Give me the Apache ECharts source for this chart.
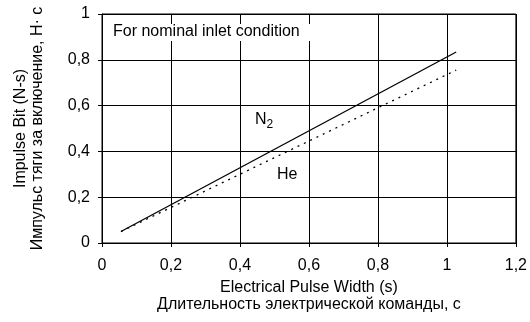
<!DOCTYPE html>
<html>
<head>
<meta charset="utf-8">
<script src="https://cdn.jsdelivr.net/npm/echarts@6/dist/echarts.min.js"></script>
<style>html,body{margin:0;padding:0;background:#fff;}#c{width:530px;height:322px;}</style>
</head>
<body>
<div id="c"></div>
<script>
var xTicks = [0, 0.2, 0.4, 0.6, 0.8, 1, 1.2];
var yTicks = [0, 0.2, 0.4, 0.6, 0.8, 1];
var n2Data = [[0.055, 0.05], [1.027, 0.834]];
var heData = [[0.055, 0.05], [1.027, 0.755]];
var note = 'For nominal inlet condition';
var xName = 'Electrical Pulse Width (s)\nДлительность электрической команды, с';
var yName = 'Impulse Bit (N-s)\nИмпульс тяги за включение, Н· с';

var F = '"Liberation Sans", Arial, sans-serif';
function fmt(v) { return String(v).replace('.', ','); }
var chart = echarts.init(document.getElementById('c'));
chart.setOption({
  animation: false,
  backgroundColor: '#fff',
  grid: { left: 102, right: 12, top: 14, bottom: 79, show: true, borderColor: '#000', borderWidth: 1 },
  xAxis: {
    type: 'value', min: 0, max: 1.2, interval: 0.2,
    name: xName, nameLocation: 'middle', nameGap: 32,
    nameTextStyle: { fontFamily: F, fontSize: 16, color: '#000', lineHeight: 17 },
    axisLine: { lineStyle: { color: '#000' } },
    axisTick: { show: true, length: 4, lineStyle: { color: '#000' } },
    axisLabel: { fontFamily: F, fontSize: 16, color: '#000', margin: 15, formatter: fmt },
    splitLine: { show: true, lineStyle: { color: '#000' } }
  },
  yAxis: {
    type: 'value', min: 0, max: 1, interval: 0.2,
    name: yName, nameLocation: 'middle', nameGap: 56, nameRotate: 90,
    nameTextStyle: { fontFamily: F, fontSize: 16, color: '#000', lineHeight: 17 },
    axisLine: { show: true, lineStyle: { color: '#000' } },
    axisTick: { show: true, length: 4, lineStyle: { color: '#000' } },
    axisLabel: { fontFamily: F, fontSize: 16, color: '#000', margin: 12, formatter: fmt },
    splitLine: { show: true, lineStyle: { color: '#000' } }
  },
  series: [
    { type: 'line', data: n2Data, symbol: 'none', lineStyle: { color: '#000', width: 1.3, type: 'solid' }, z: 3 },
    { type: 'line', data: heData, symbol: 'none', lineStyle: { color: '#000', width: 1.3, type: [2, 5] }, z: 3 }
  ],
  graphic: [
    { type: 'rect', shape: { x: 106, y: 24, width: 208, height: 17 }, style: { fill: '#fff' }, z: 10 },
    { type: 'text', x: 113, y: 32, style: { text: note, font: '16px ' + F, fill: '#000', verticalAlign: 'middle' }, z: 11 },
    { type: 'text', x: 255, y: 120, style: { text: 'N{s|2}', font: '16px ' + F, fill: '#000', verticalAlign: 'middle', rich: { s: { fontSize: 12, fontFamily: F, padding: [10, 0, 0, 0] } } }, z: 11 },
    { type: 'text', x: 277, y: 175, style: { text: 'He', font: '16px ' + F, fill: '#000', verticalAlign: 'middle' }, z: 11 }
  ]
});
</script>
</body>
</html>
